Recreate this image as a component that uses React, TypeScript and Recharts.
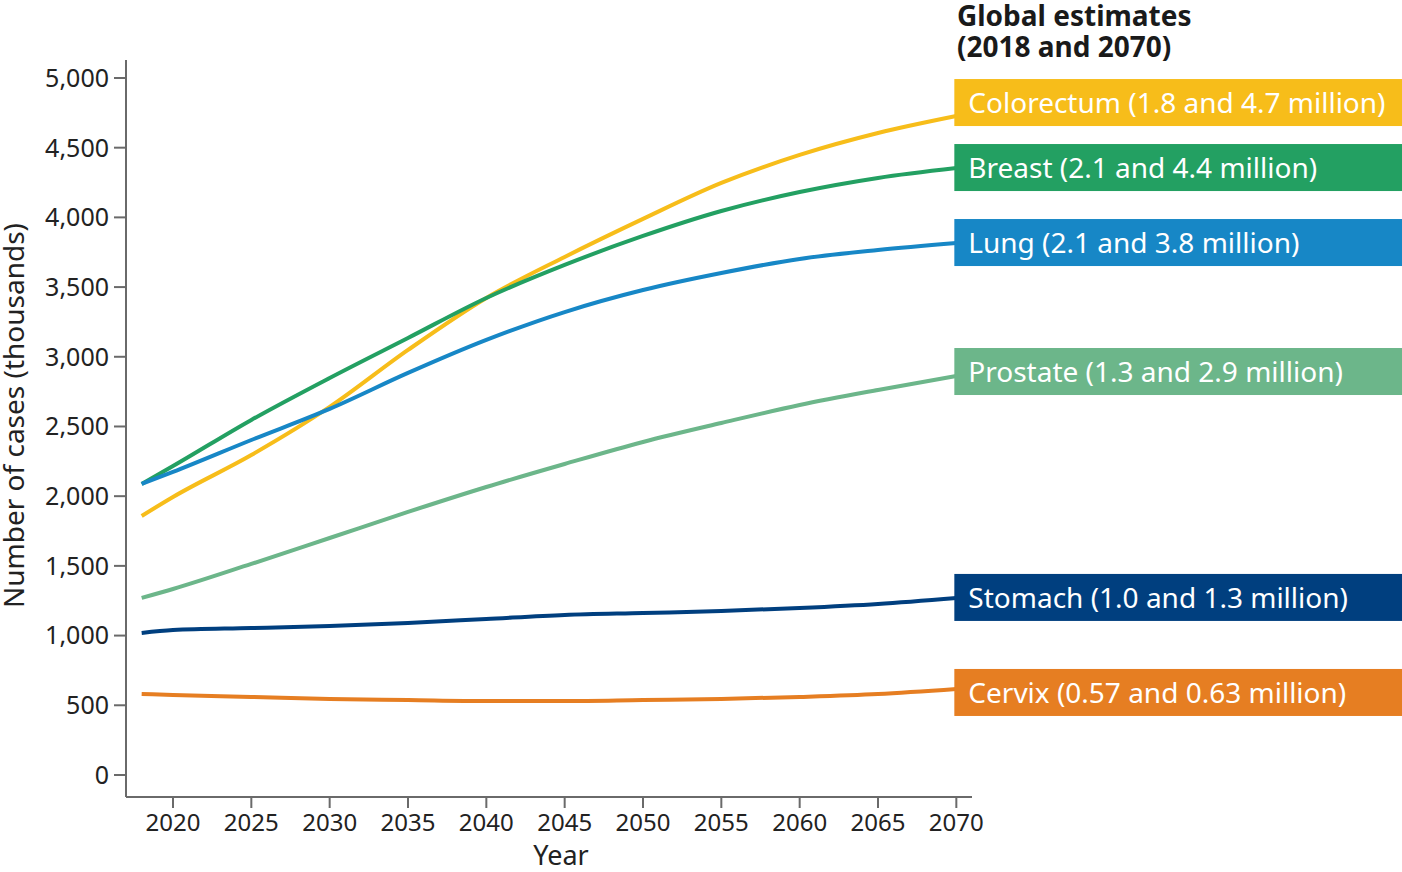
import React from "react";
import { LineChart, Line, XAxis, YAxis } from "recharts";

const years = [2018, 2020, 2025, 2030, 2035, 2040, 2045, 2050, 2055, 2060, 2065, 2070];
const colorectum = [1858, 1994, 2295, 2640, 3049, 3422, 3716, 3989, 4247, 4448, 4605, 4727];
const breast = [2088, 2216, 2547, 2848, 3135, 3422, 3659, 3867, 4046, 4182, 4283, 4354];
const lung = [2088, 2174, 2403, 2626, 2884, 3121, 3321, 3479, 3601, 3702, 3766, 3816];
const prostate = [1270, 1334, 1514, 1700, 1887, 2066, 2231, 2389, 2525, 2654, 2762, 2862];
const stomach = [1019, 1040, 1054, 1069, 1090, 1119, 1148, 1162, 1176, 1198, 1227, 1270];
const cervix = [581, 574, 560, 545, 538, 531, 531, 538, 545, 560, 581, 617];

const yTicks = [0, 500, 1000, 1500, 2000, 2500, 3000, 3500, 4000, 4500, 5000];
const xTicks = [2020, 2025, 2030, 2035, 2040, 2045, 2050, 2055, 2060, 2065, 2070];

const series = [
  { key: "colorectum", values: colorectum, color: "#f7bd1a", label: "Colorectum (1.8 and 4.7 million)", shift: -13 },
  { key: "breast", values: breast, color: "#23a062", label: "Breast (2.1 and 4.4 million)", shift: 0 },
  { key: "lung", values: lung, color: "#1787c6", label: "Lung (2.1 and 3.8 million)", shift: 0 },
  { key: "prostate", values: prostate, color: "#6cb68a", label: "Prostate (1.3 and 2.9 million)", shift: -4 },
  { key: "stomach", values: stomach, color: "#003f7f", label: "Stomach (1.0 and 1.3 million)", shift: 0 },
  { key: "cervix", values: cervix, color: "#e67e22", label: "Cervix (0.57 and 0.63 million)", shift: 4 },
];

const data = years.map((year, i) => {
  const row: Record<string, number> = { year };
  series.forEach((s) => (row[s.key] = s.values[i]));
  return row;
});

const FONT = "'Noto Sans', sans-serif";
const AXIS = "#6a6a6a";

const endLabel = (s: (typeof series)[number]) => (props: any) => {
  if (props.index !== years.length - 1) return null;
  const cy = props.y + s.shift;
  return (
    <g>
      <rect x={props.x - 2} y={cy - 24} width={460} height={47} fill={s.color} />
      <text x={props.x + 12} y={cy + 10} fill="#fff" fontSize={28} fontFamily={FONT}>
        {s.label}
      </text>
    </g>
  );
};

const titleStyle: React.CSSProperties = {
  position: "absolute",
  left: 957,
  fontFamily: FONT,
  fontWeight: 700,
  fontSize: 28,
  lineHeight: "30px",
  color: "#1a1a1a",
  whiteSpace: "nowrap",
};

export default function App() {
  return (
    <div style={{ position: "absolute", left: 0, top: 0, width: 1402, height: 872, background: "#fff" }}>
      <LineChart
        width={1402}
        height={872}
        data={data}
        margin={{ top: 60, right: 430, bottom: 0, left: 0 }}
      >
        <XAxis
          dataKey="year"
          type="number"
          domain={[2017, 2071]}
          ticks={xTicks}
          height={75}
          stroke={AXIS}
          strokeWidth={2}
          tickSize={11}
          tickMargin={6}
          tick={{ fontSize: 24, fill: "#222", fontFamily: FONT }}
          label={{
            content: ({ viewBox }: any) => (
              <text x={viewBox.x + viewBox.width / 2 + 12} y={viewBox.y + 68} textAnchor="middle" fontSize={27} fill="#222" fontFamily={FONT}>
                Year
              </text>
            ),
          }}
        />
        <YAxis
          type="number"
          domain={[-158, 5129]}
          ticks={yTicks}
          width={126}
          stroke={AXIS}
          strokeWidth={2}
          tickSize={12}
          tickMargin={5}
          tickFormatter={(v: number) => v.toLocaleString("en-US")}
          tick={{ fontSize: 25, fill: "#222", fontFamily: FONT }}
          label={{
            content: ({ viewBox }: any) => {
              const cx = viewBox.x + 24;
              const cy = viewBox.y + viewBox.height / 2 - 13;
              return (
                <text x={cx} y={cy} textAnchor="middle" fontSize={28} fill="#222" fontFamily={FONT} transform={`rotate(-90 ${cx} ${cy})`}>
                  Number of cases (thousands)
                </text>
              );
            },
          }}
        />
        {series.map((s) => (
          <Line
            key={s.key}
            type="monotone"
            dataKey={s.key}
            stroke={s.color}
            strokeWidth={4}
            dot={false}
            isAnimationActive={false}
            label={endLabel(s)}
          />
        ))}
      </LineChart>
      <div style={{ ...titleStyle, top: 0 }}>Global estimates</div>
      <div style={{ ...titleStyle, top: 31 }}>(2018 and 2070)</div>
    </div>
  );
}
